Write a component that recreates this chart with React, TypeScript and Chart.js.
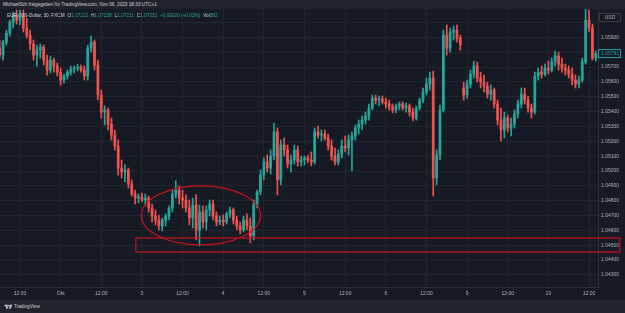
import React, { useEffect, useRef } from "react";
import { Chart, registerables } from "chart.js";

Chart.register(...registerables);

// ---- time axis (hourly bar index -> label) ----
const TICK_BARS = [6, 18, 30, 42, 54, 66, 78, 90, 102, 114, 126, 138, 150, 162, 174];
const TICK_LABELS = ["12:00", "Okt", "12:00", "3", "12:00", "4", "12:00", "5", "12:00", "6", "12:00", "9", "12:00", "10", "12:00"];

// ---- candles [open, high, low, close], hourly, EUR/USD ----
type Candle = [number, number, number, number];
const SEP29: Candle[] = [
  [1.05828, 1.05882, 1.05761, 1.05781], [1.05781, 1.05882, 1.05747, 1.05868], [1.05868, 1.05949, 1.05848, 1.05929],
  [1.05929, 1.06016, 1.05909, 1.06003], [1.06003, 1.0607, 1.05963, 1.0605], [1.0605, 1.06084, 1.05989, 1.06016],
  [1.06016, 1.06084, 1.05983, 1.06057], [1.06057, 1.06084, 1.05936, 1.05963], [1.05963, 1.0603, 1.05895, 1.05915],
  [1.05915, 1.05949, 1.05815, 1.05855], [1.05855, 1.05882, 1.05747, 1.05781], [1.05781, 1.05848, 1.05707, 1.05815],
  [1.05815, 1.05855, 1.05761, 1.05835], [1.05835, 1.05848, 1.05714, 1.05747], [1.05747, 1.05781, 1.05646, 1.0568],
  [1.0568, 1.05774, 1.0566, 1.05747], [1.05747, 1.05761, 1.05666, 1.05707], [1.05707, 1.05727, 1.0564, 1.05666],
];
const OCT02: Candle[] = [
  [1.05666, 1.05693, 1.05579, 1.05613], [1.05613, 1.05653, 1.05592, 1.0564], [1.0564, 1.0568, 1.05619, 1.05666],
  [1.05666, 1.05707, 1.05646, 1.05687], [1.05687, 1.05707, 1.0566, 1.05693], [1.05693, 1.0572, 1.05673, 1.057],
  [1.057, 1.05714, 1.05666, 1.0568], [1.0568, 1.05707, 1.05613, 1.0564], [1.0564, 1.05848, 1.05613, 1.05828],
  [1.05828, 1.05909, 1.05801, 1.05868], [1.05868, 1.05882, 1.0568, 1.05714], [1.05714, 1.05747, 1.05478, 1.05512],
  [1.05512, 1.05545, 1.05357, 1.05397], [1.05397, 1.05438, 1.0531, 1.05411], [1.05411, 1.05424, 1.05276, 1.05316],
  [1.05316, 1.05357, 1.05209, 1.05242], [1.05242, 1.05276, 1.05142, 1.05168], [1.05168, 1.05209, 1.04973, 1.0502],
  [1.0502, 1.05074, 1.04953, 1.04993], [1.04993, 1.05041, 1.04926, 1.05007], [1.05007, 1.0502, 1.04886, 1.04913],
  [1.04913, 1.0494, 1.04832, 1.04845], [1.04845, 1.04872, 1.04778, 1.04818], [1.04818, 1.04845, 1.04785, 1.04825],
];
const OCT03: Candle[] = [
  [1.04825, 1.04852, 1.04792, 1.04805], [1.04805, 1.04845, 1.04765, 1.04818], [1.04818, 1.04832, 1.04724, 1.04751],
  [1.04751, 1.04778, 1.04657, 1.04697], [1.04697, 1.04738, 1.04637, 1.0467], [1.0467, 1.04704, 1.04603, 1.0463],
  [1.0463, 1.04684, 1.04596, 1.0467], [1.0467, 1.04711, 1.0463, 1.04697], [1.04697, 1.04765, 1.0467, 1.04751],
  [1.04751, 1.04872, 1.04724, 1.04845], [1.04845, 1.04933, 1.04818, 1.04872], [1.04872, 1.04899, 1.04778, 1.04818],
  [1.04818, 1.04872, 1.04751, 1.04805], [1.04805, 1.04839, 1.04724, 1.04751], [1.04751, 1.04805, 1.04637, 1.04684],
  [1.04684, 1.04818, 1.04617, 1.04771], [1.04771, 1.04839, 1.04536, 1.04603], [1.04603, 1.04771, 1.04495, 1.04724],
  [1.04724, 1.04765, 1.04617, 1.04657], [1.04657, 1.04765, 1.04603, 1.04738], [1.04738, 1.04805, 1.04697, 1.04778],
  [1.04778, 1.04805, 1.0467, 1.04697], [1.04697, 1.04724, 1.0463, 1.04657], [1.04657, 1.04697, 1.04637, 1.0467],
];
const OCT04: Candle[] = [
  [1.0467, 1.04704, 1.0463, 1.04657], [1.04657, 1.04724, 1.04643, 1.04711], [1.04711, 1.04758, 1.04684, 1.04738],
  [1.04738, 1.04751, 1.04643, 1.0467], [1.0467, 1.04697, 1.04603, 1.0463], [1.0463, 1.04657, 1.04576, 1.04603],
  [1.04603, 1.04697, 1.0459, 1.0467], [1.0467, 1.04711, 1.04603, 1.0463], [1.0463, 1.04684, 1.04516, 1.04563],
  [1.04563, 1.04805, 1.04536, 1.04771], [1.04771, 1.04872, 1.04751, 1.04859], [1.04859, 1.05007, 1.04839, 1.04973],
  [1.04973, 1.05088, 1.0494, 1.05061], [1.05061, 1.05108, 1.04993, 1.0502], [1.0502, 1.05142, 1.0498, 1.05101],
  [1.05101, 1.05323, 1.05074, 1.05263], [1.05263, 1.0529, 1.04839, 1.0494], [1.0494, 1.05209, 1.04906, 1.05175],
  [1.05175, 1.05222, 1.05101, 1.05142], [1.05142, 1.05175, 1.0502, 1.05047], [1.05047, 1.05108, 1.04993, 1.05074],
  [1.05074, 1.05175, 1.05047, 1.05142], [1.05142, 1.05168, 1.05034, 1.05061], [1.05061, 1.05101, 1.05034, 1.05074],
];
const OCT05: Candle[] = [
  [1.05074, 1.05101, 1.05041, 1.05088], [1.05088, 1.05108, 1.05054, 1.05074], [1.05074, 1.05128, 1.05034, 1.05061],
  [1.05061, 1.0529, 1.05047, 1.05263], [1.05263, 1.05303, 1.05222, 1.05242], [1.05242, 1.05276, 1.05202, 1.05249],
  [1.05249, 1.05276, 1.05209, 1.05222], [1.05222, 1.05249, 1.05142, 1.05168], [1.05168, 1.05209, 1.05074, 1.05101],
  [1.05101, 1.05155, 1.05041, 1.05061], [1.05061, 1.05142, 1.05041, 1.05115], [1.05115, 1.05209, 1.05088, 1.05168],
  [1.05168, 1.05236, 1.05128, 1.05155], [1.05155, 1.05242, 1.05108, 1.05209], [1.05209, 1.05263, 1.05, 1.05236],
  [1.05236, 1.0531, 1.05209, 1.0529], [1.0529, 1.05343, 1.05249, 1.05316], [1.05316, 1.0537, 1.05276, 1.05343],
  [1.05343, 1.05397, 1.05316, 1.0537], [1.0537, 1.05451, 1.05343, 1.05424], [1.05424, 1.05512, 1.05411, 1.05491],
  [1.05491, 1.05512, 1.05451, 1.05478], [1.05478, 1.05505, 1.05438, 1.05485], [1.05485, 1.05505, 1.05451, 1.05465],
];
const OCT06: Candle[] = [
  [1.05465, 1.05491, 1.05424, 1.05451], [1.05451, 1.05478, 1.05411, 1.05431], [1.05431, 1.05451, 1.05391, 1.05411],
  [1.05411, 1.05451, 1.05391, 1.05438], [1.05438, 1.05465, 1.05411, 1.05451], [1.05451, 1.05465, 1.05411, 1.05424],
  [1.05424, 1.05458, 1.05397, 1.05438], [1.05438, 1.05451, 1.0537, 1.05397], [1.05397, 1.05424, 1.05337, 1.05357],
  [1.05357, 1.05438, 1.05343, 1.05424], [1.05424, 1.05491, 1.05411, 1.05478], [1.05478, 1.05559, 1.05458, 1.05532],
  [1.05532, 1.05626, 1.05512, 1.05586], [1.05586, 1.05666, 1.05545, 1.05626], [1.05626, 1.05673, 1.04832, 1.04953],
  [1.04953, 1.05142, 1.04906, 1.05108], [1.05108, 1.05444, 1.05074, 1.05411], [1.05411, 1.05949, 1.05397, 1.05915],
  [1.05915, 1.05983, 1.05781, 1.05828], [1.05828, 1.05963, 1.05801, 1.05936], [1.05936, 1.05976, 1.05882, 1.05949],
  [1.05949, 1.05983, 1.05868, 1.05895], [1.05895, 1.05915, 1.05815, 1.05848],
];
const OCT09: Candle[] = [
  [1.05559, 1.05599, 1.05478, 1.05512], [1.05512, 1.05613, 1.05491, 1.05586], [1.05586, 1.0568, 1.05559, 1.05653],
  [1.05653, 1.0574, 1.05626, 1.05707], [1.05707, 1.05734, 1.05599, 1.05626], [1.05626, 1.05666, 1.05559, 1.05599],
  [1.05599, 1.05646, 1.05532, 1.05572], [1.05572, 1.05599, 1.05491, 1.05518], [1.05518, 1.05579, 1.05478, 1.05545],
  [1.05545, 1.05559, 1.05424, 1.05451], [1.05451, 1.05478, 1.0531, 1.05343], [1.05343, 1.05424, 1.05202, 1.05276],
  [1.05276, 1.05397, 1.05222, 1.05357], [1.05357, 1.05377, 1.05263, 1.0529], [1.0529, 1.05357, 1.05236, 1.05316],
  [1.05316, 1.05411, 1.0529, 1.05384], [1.05384, 1.05478, 1.05357, 1.05451], [1.05451, 1.05559, 1.05424, 1.05518],
  [1.05518, 1.05559, 1.05451, 1.05478], [1.05478, 1.05505, 1.05397, 1.05424], [1.05424, 1.05451, 1.05357, 1.05397],
  [1.05397, 1.05666, 1.05384, 1.0564], [1.0564, 1.05693, 1.05613, 1.05666], [1.05666, 1.05707, 1.05626, 1.05653],
  [1.05653, 1.0572, 1.0564, 1.05693],
];
const OCT10: Candle[] = [
  [1.05693, 1.0574, 1.05653, 1.0568], [1.0568, 1.05761, 1.05666, 1.05734], [1.05734, 1.05808, 1.05707, 1.05774],
  [1.05774, 1.05801, 1.0568, 1.0572], [1.0572, 1.05761, 1.05666, 1.05693], [1.05693, 1.0572, 1.05646, 1.0568],
  [1.0568, 1.05707, 1.05626, 1.05653], [1.05653, 1.05693, 1.05579, 1.05613], [1.05613, 1.05646, 1.05559, 1.05586],
  [1.05586, 1.0564, 1.05559, 1.05613], [1.05613, 1.05761, 1.05599, 1.05734], [1.05734, 1.06097, 1.0572, 1.06016],
  [1.06016, 1.06084, 1.05936, 1.05963], [1.05963, 1.05989, 1.05747, 1.05761], [1.05761, 1.05808, 1.0574, 1.05791],
];

// ---- drawings (anchored in bar index / price) ----
const ZONE = { fromBar: 40.2, toBar: 183.1, low: 1.04455, high: 1.04549 };
const ELLIPSE = { fromBar: 41.85, toBar: 77.0, low: 1.04502, high: 1.049 };

const HEADER = "MichaelSch freigegeben für TradingView.com, Nov 06, 2023 18:33 UTC+1";
const SYMBOL = "EUR / US-Dollar, 30, FXCM";
const OHLC = [
  ["O", "1.07212"],
  ["H", "1.07238"],
  ["L", "1.07211"],
  ["C", "1.07232"],
];
const CHANGE = "+0.00020 (+0.02%)";
const VOL = "382";

const UP = "#26a69a";
const DOWN = "#ef5350";
const BG = "#161a25";
const PANEL = "#1f232e";
const TEXT = "#b2b5be";
const GRID = "rgba(42,46,57,0.55)";
const FONT = '"Liberation Sans", Arial, sans-serif';

export default function App() {
  const ref = useRef<HTMLCanvasElement>(null);

  useEffect(() => {
    const candles = [...SEP29, ...OCT02, ...OCT03, ...OCT04, ...OCT05, ...OCT06, ...OCT09, ...OCT10];
    const colors = candles.map((c) => (c[3] >= c[0] ? UP : DOWN));
    const bodies = candles.map((c, i) => ({ x: i, y: [c[0], c[3]] }));
    const wicks = candles.map((c, i) => ({ x: i, y: [c[2], c[1]] }));
    const last = candles[candles.length - 1];

    const overlay = {
      id: "overlay",
      beforeDraw(chart: any) {
        const ctx = chart.ctx;
        ctx.save();
        ctx.fillStyle = BG;
        ctx.fillRect(0, 0, chart.width, chart.height);
        ctx.restore();
      },
      afterDraw(chart: any) {
        const { ctx } = chart;
        const xs = chart.scales.x;
        const ys = chart.scales.y;
        const area = chart.chartArea;
        ctx.save();
        // price label of last close
        const lastY = ys.getPixelForValue(last[3]);
        const lastCol = last[3] >= last[0] ? UP : DOWN;
        ctx.fillStyle = BG;
        ctx.fillRect(area.right + 0.5, lastY - 4, 22, 8);
        ctx.strokeStyle = lastCol;
        ctx.lineWidth = 1;
        ctx.strokeRect(area.right + 0.5, lastY - 4, 22, 8);
        ctx.fillStyle = lastCol;
        ctx.font = `5px ${FONT}`;
        ctx.textBaseline = "middle";
        ctx.textAlign = "left";
        ctx.fillText(last[3].toFixed(5), area.right + 3, lastY + 0.3);
        // USD button
        ctx.fillStyle = BG;
        ctx.fillRect(area.right + 1.5, 4.5, 21, 8);
        ctx.strokeStyle = "#363a45";
        ctx.strokeRect(area.right + 1.5, 4.5, 21, 8);
        ctx.fillStyle = TEXT;
        ctx.textAlign = "center";
        ctx.fillText("USD", area.right + 12, 8.8);
        // zone rectangle
        ctx.strokeStyle = "#c8141c";
        ctx.lineWidth = 1.2;
        const zx1 = xs.getPixelForValue(ZONE.fromBar);
        const zx2 = xs.getPixelForValue(ZONE.toBar);
        const zy1 = ys.getPixelForValue(ZONE.high);
        const zy2 = ys.getPixelForValue(ZONE.low);
        ctx.strokeRect(zx1, zy1, zx2 - zx1, zy2 - zy1);
        // ellipse
        const ex1 = xs.getPixelForValue(ELLIPSE.fromBar);
        const ex2 = xs.getPixelForValue(ELLIPSE.toBar);
        const ey1 = ys.getPixelForValue(ELLIPSE.high);
        const ey2 = ys.getPixelForValue(ELLIPSE.low);
        ctx.beginPath();
        ctx.ellipse((ex1 + ex2) / 2, (ey1 + ey2) / 2, (ex2 - ex1) / 2, (ey2 - ey1) / 2, 0, 0, Math.PI * 2);
        ctx.stroke();
        ctx.restore();
      },
    };

    const chart = new Chart(ref.current!, {
      type: "bar",
      data: {
        datasets: [
          {
            data: bodies as any,
            backgroundColor: colors,
            borderWidth: 0,
            barThickness: 2.1,
            minBarLength: 0.8,
            grouped: false,
            order: 0,
          } as any,
          {
            data: wicks as any,
            backgroundColor: colors,
            borderWidth: 0,
            barThickness: 1,
            grouped: false,
            order: 1,
          } as any,
        ],
      },
      options: {
        responsive: false,
        animation: false,
        devicePixelRatio: 1,
        layout: { padding: 0 },
        plugins: { legend: { display: false }, tooltip: { enabled: false } },
        scales: {
          x: {
            type: "linear",
            min: 0.1,
            max: 176.65,
            offset: false,
            grid: { offset: false, color: GRID, drawTicks: false, lineWidth: 1 },
            border: { color: "#2a2e39" },
            afterBuildTicks: (s: any) => {
              s.ticks = TICK_BARS.map((v) => ({ value: v }));
            },
            afterFit: (s: any) => {
              s.height = 13;
              s.paddingLeft = 0;
              s.paddingRight = 0;
            },
            ticks: {
              autoSkip: false,
              maxRotation: 0,
              padding: 4,
              color: TEXT,
              font: { size: 5, family: FONT },
              callback: (_v: any, i: number) => TICK_LABELS[i],
            },
          },
          y: {
            type: "linear",
            position: "right",
            min: 1.04219,
            max: 1.06091,
            grid: { color: GRID, drawTicks: false },
            border: { color: "#2a2e39" },
            afterFit: (s: any) => {
              s.width = 27;
              s.paddingTop = 0;
              s.paddingBottom = 0;
            },
            ticks: {
              stepSize: 0.001,
              includeBounds: false,
              padding: 3,
              color: TEXT,
              font: { size: 5, family: FONT },
              callback: (v: any) => {
                const n = Number(v);
                if (Math.abs(n - 1.058) < 1e-7 || Math.abs(n - 1.06) < 1e-7) return "";
                return n.toFixed(5);
              },
            },
          },
        },
      },
      plugins: [overlay],
    });
    return () => chart.destroy();
  }, []);

  const small = { fontSize: 4.7, lineHeight: "9px", whiteSpace: "nowrap" as const };
  return (
    <div
      style={{
        position: "fixed",
        left: 0,
        top: 0,
        width: 625,
        height: 313,
        background: BG,
        overflow: "hidden",
        fontFamily: FONT,
      }}
    >
      <div style={{ position: "absolute", left: 0, top: 0, width: 625, height: 9, background: PANEL }}>
        <div style={{ ...small, position: "absolute", left: 3, top: 0, color: "#d1d4dc" }}>{HEADER}</div>
      </div>
      <canvas ref={ref} width={625} height={291} style={{ position: "absolute", left: 0, top: 9, width: 625, height: 291 }} />
      <div style={{ ...small, position: "absolute", left: 7, top: 10.5, color: "#d1d4dc" }}>
        <span>{SYMBOL}</span>
        {OHLC.map(([k, v]) => (
          <span key={k} style={{ marginLeft: 3 }}>
            <span style={{ color: "#d1d4dc" }}>{k}</span>
            <span style={{ color: UP }}>{v}</span>
          </span>
        ))}
        <span style={{ marginLeft: 3, color: UP }}>{CHANGE}</span>
        <span style={{ marginLeft: 3 }}>
          <span style={{ color: "#d1d4dc" }}>Vol</span>
          <span style={{ color: UP }}>{VOL}</span>
        </span>
      </div>
      <div style={{ position: "absolute", left: 0, top: 300, width: 625, height: 13, background: PANEL }}>
        <svg width="9" height="6" viewBox="0 0 36 28" style={{ position: "absolute", left: 4, top: 3.5 }}>
          <path d="M14 22H7V11H0V4h14v18zM28 22h-8l7.5-18h8L28 22z" fill="#d1d4dc" />
          <circle cx="20" cy="8" r="4" fill="#d1d4dc" />
        </svg>
        <div style={{ ...small, position: "absolute", left: 14, top: 2, color: "#d1d4dc" }}>TradingView</div>
      </div>
    </div>
  );
}
